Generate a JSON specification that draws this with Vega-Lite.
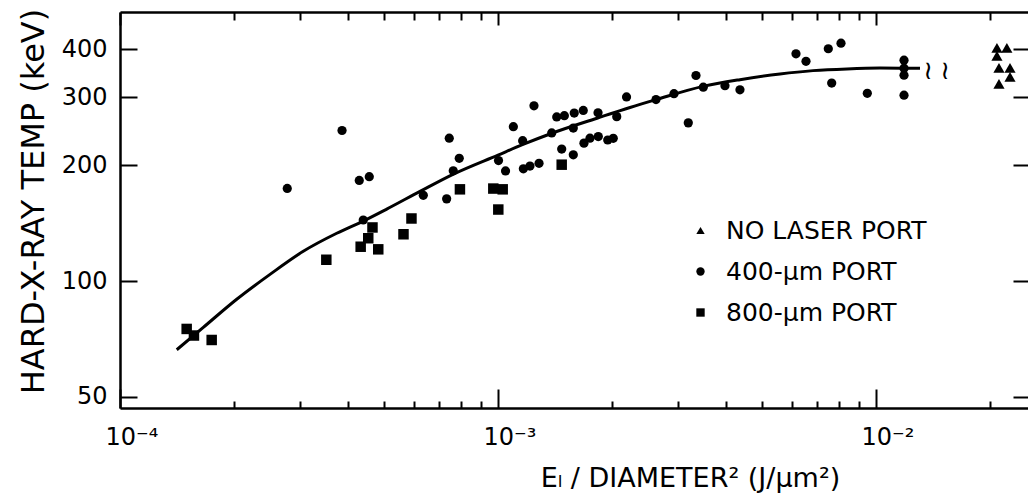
{
  "$schema": "https://vega.github.io/schema/vega-lite/v6.json",
  "width": 908,
  "height": 396,
  "autosize": {"type": "none"},
  "padding": {"left": 120, "top": 12, "right": 0, "bottom": 90},
  "background": "white",
  "datasets": {
    "curve": [
      {"e": 0.0001413, "t": 66.3}, {"e": 0.0001661, "t": 75.8}, {"e": 0.0002036, "t": 89.7},
      {"e": 0.0002494, "t": 104.1}, {"e": 0.0003054, "t": 119.5}, {"e": 0.0003744, "t": 133.1},
      {"e": 0.0004401, "t": 143.2}, {"e": 0.0005077, "t": 153.8}, {"e": 0.0006218, "t": 171.0},
      {"e": 0.00076, "t": 189.4}, {"e": 0.001, "t": 212.5}, {"e": 0.0011645, "t": 226.4},
      {"e": 0.001389, "t": 242.1}, {"e": 0.001828, "t": 264.9}, {"e": 0.002235, "t": 282.5},
      {"e": 0.002618, "t": 296.0}, {"e": 0.003486, "t": 320.4}, {"e": 0.004366, "t": 333.6},
      {"e": 0.005572, "t": 345.2}, {"e": 0.006813, "t": 352.1}, {"e": 0.00838, "t": 355.8},
      {"e": 0.010246, "t": 357.5}, {"e": 0.013074, "t": 356.9}
    ],
    "points": [
      {"e": 0.0001501, "t": 75.1, "port": "800-μm PORT"},
      {"e": 0.0001569, "t": 72.2, "port": "800-μm PORT"},
      {"e": 0.0001748, "t": 70.3, "port": "800-μm PORT"},
      {"e": 0.0003514, "t": 113.6, "port": "800-μm PORT"},
      {"e": 0.0004332, "t": 122.8, "port": "800-μm PORT"},
      {"e": 0.0004537, "t": 129.2, "port": "800-μm PORT"},
      {"e": 0.0004655, "t": 137.8, "port": "800-μm PORT"},
      {"e": 0.0004822, "t": 120.9, "port": "800-μm PORT"},
      {"e": 0.0005623, "t": 132.3, "port": "800-μm PORT"},
      {"e": 0.0005903, "t": 145.4, "port": "800-μm PORT"},
      {"e": 0.000793, "t": 173.1, "port": "800-μm PORT"},
      {"e": 0.0009718, "t": 173.9, "port": "800-μm PORT"},
      {"e": 0.001029, "t": 173.1, "port": "800-μm PORT"},
      {"e": 0.0010018, "t": 153.4, "port": "800-μm PORT"},
      {"e": 0.001474, "t": 200.6, "port": "800-μm PORT"},
      {"e": 0.000277, "t": 174.0, "port": "400-μm PORT"},
      {"e": 0.0003867, "t": 246.1, "port": "400-μm PORT"},
      {"e": 0.0004295, "t": 182.6, "port": "400-μm PORT"},
      {"e": 0.0004565, "t": 186.7, "port": "400-μm PORT"},
      {"e": 0.0004401, "t": 144.1, "port": "400-μm PORT"},
      {"e": 0.0006344, "t": 167.0, "port": "400-μm PORT"},
      {"e": 0.0007314, "t": 163.5, "port": "400-μm PORT"},
      {"e": 0.0007431, "t": 235.0, "port": "400-μm PORT"},
      {"e": 0.0007897, "t": 208.4, "port": "400-μm PORT"},
      {"e": 0.0007614, "t": 193.4, "port": "400-μm PORT"},
      {"e": 0.001003, "t": 205.6, "port": "400-μm PORT"},
      {"e": 0.001047, "t": 193.2, "port": "400-μm PORT"},
      {"e": 0.001098, "t": 251.8, "port": "400-μm PORT"},
      {"e": 0.001245, "t": 285.3, "port": "400-μm PORT"},
      {"e": 0.001162, "t": 231.5, "port": "400-μm PORT"},
      {"e": 0.001167, "t": 195.7, "port": "400-μm PORT"},
      {"e": 0.001215, "t": 198.9, "port": "400-μm PORT"},
      {"e": 0.001284, "t": 202.2, "port": "400-μm PORT"},
      {"e": 0.001387, "t": 242.6, "port": "400-μm PORT"},
      {"e": 0.00143, "t": 266.9, "port": "400-μm PORT"},
      {"e": 0.001498, "t": 268.9, "port": "400-μm PORT"},
      {"e": 0.001591, "t": 273.2, "port": "400-μm PORT"},
      {"e": 0.001681, "t": 277.5, "port": "400-μm PORT"},
      {"e": 0.001582, "t": 249.7, "port": "400-μm PORT"},
      {"e": 0.001474, "t": 220.3, "port": "400-μm PORT"},
      {"e": 0.001582, "t": 212.8, "port": "400-μm PORT"},
      {"e": 0.001688, "t": 228.2, "port": "400-μm PORT"},
      {"e": 0.001751, "t": 235.0, "port": "400-μm PORT"},
      {"e": 0.001842, "t": 237.4, "port": "400-μm PORT"},
      {"e": 0.001951, "t": 232.5, "port": "400-μm PORT"},
      {"e": 0.002018, "t": 234.9, "port": "400-μm PORT"},
      {"e": 0.001839, "t": 273.7, "port": "400-μm PORT"},
      {"e": 0.002061, "t": 267.4, "port": "400-μm PORT"},
      {"e": 0.002188, "t": 300.9, "port": "400-μm PORT"},
      {"e": 0.002618, "t": 296.1, "port": "400-μm PORT"},
      {"e": 0.002921, "t": 306.7, "port": "400-μm PORT"},
      {"e": 0.003187, "t": 257.6, "port": "400-μm PORT"},
      {"e": 0.00334, "t": 342.0, "port": "400-μm PORT"},
      {"e": 0.003492, "t": 318.9, "port": "400-μm PORT"},
      {"e": 0.003985, "t": 321.7, "port": "400-μm PORT"},
      {"e": 0.004366, "t": 313.9, "port": "400-μm PORT"},
      {"e": 0.006142, "t": 389.3, "port": "400-μm PORT"},
      {"e": 0.006528, "t": 372.3, "port": "400-μm PORT"},
      {"e": 0.007478, "t": 401.3, "port": "400-μm PORT"},
      {"e": 0.008079, "t": 415.0, "port": "400-μm PORT"},
      {"e": 0.007634, "t": 326.9, "port": "400-μm PORT"},
      {"e": 0.009484, "t": 307.4, "port": "400-μm PORT"},
      {"e": 0.01186, "t": 374.7, "port": "400-μm PORT"},
      {"e": 0.01186, "t": 357.2, "port": "400-μm PORT"},
      {"e": 0.01186, "t": 342.6, "port": "400-μm PORT"},
      {"e": 0.01186, "t": 304.0, "port": "400-μm PORT"},
      {"e": 0.02089, "t": 403.4, "port": "NO LASER PORT"},
      {"e": 0.02219, "t": 403.4, "port": "NO LASER PORT"},
      {"e": 0.02089, "t": 384.5, "port": "NO LASER PORT"},
      {"e": 0.02115, "t": 357.9, "port": "NO LASER PORT"},
      {"e": 0.02262, "t": 357.9, "port": "NO LASER PORT"},
      {"e": 0.02115, "t": 325.2, "port": "NO LASER PORT"},
      {"e": 0.02262, "t": 339.2, "port": "NO LASER PORT"}
    ],
    "breaks": [
      {"e": 0.01373, "t": 352, "s": "≀"},
      {"e": 0.01523, "t": 352, "s": "≀"}
    ]
  },
  "layer": [
    {
      "data": {"name": "curve"},
      "mark": {"type": "line", "color": "black", "strokeWidth": 3, "interpolate": "monotone"},
      "encoding": {
        "x": {
          "field": "e", "type": "quantitative",
          "scale": {"type": "log", "domain": [0.0001, 0.02524], "nice": false},
          "axis": {
            "orient": "bottom",
            "values": [0.0001, 0.0002, 0.0003, 0.0004, 0.0005, 0.0006, 0.0007, 0.0008, 0.0009, 0.001, 0.002, 0.003, 0.004, 0.005, 0.006, 0.007, 0.008, 0.009, 0.01, 0.02],
            "labelExpr": "datum.value == 0.0001 ? '10⁻⁴' : datum.value == 0.001 ? '10⁻³' : datum.value == 0.01 ? '10⁻²' : ''",
            "labelFontSize": 24,
            "labelAlign": "left",
            "labelOffset": -15,
            "labelPadding": 36,
            "labelFlush": false,
            "labelOverlap": false,
            "labelBound": false,
            "ticks": true,
            "tickSize": {"condition": {"test": "abs(log(datum.value)/LN10 - round(log(datum.value)/LN10)) < 0.001", "value": -19}, "value": -7},
            "tickWidth": 2,
            "domain": true,
            "domainWidth": 2.5,
            "title": "Eₗ / DIAMETER² (J/μm²)",
            "titleFontSize": 27,
            "titleX": 570,
            "titleY": 78,
            "titleAlign": "center",
            "titleBaseline": "alphabetic"
          }
        },
        "y": {
          "field": "t", "type": "quantitative",
          "scale": {"type": "log", "domain": [46.8, 500], "nice": false, "zero": false},
          "axis": {
            "orient": "left",
            "values": [50, 100, 200, 300, 400],
            "labelFontSize": 24,
            "labelPadding": 30,
            "labelOverlap": false,
            "ticks": true,
            "tickSize": -17,
            "tickWidth": 2,
            "domain": true,
            "domainWidth": 2.5,
            "title": "HARD-X-RAY TEMP (keV)",
            "titleFontSize": 32,
            "titleAngle": 270,
            "titleX": -77,
            "titleY": 189,
            "titleAlign": "center",
            "titleBaseline": "alphabetic"
          }
        }
      }
    },
    {
      "data": {"name": "points"},
      "mark": {"type": "point", "filled": true, "color": "black", "opacity": 1, "strokeWidth": 0},
      "encoding": {
        "x": {
          "field": "e", "type": "quantitative",
          "scale": {"type": "log", "domain": [0.0001, 0.02524], "nice": false},
          "axis": {
            "orient": "top",
            "values": [0.0001, 0.0002, 0.0003, 0.0004, 0.0005, 0.0006, 0.0007, 0.0008, 0.0009, 0.001, 0.002, 0.003, 0.004, 0.005, 0.006, 0.007, 0.008, 0.009, 0.01, 0.02],
            "labels": false,
            "ticks": true,
            "tickSize": {"condition": {"test": "abs(log(datum.value)/LN10 - round(log(datum.value)/LN10)) < 0.001", "value": -13}, "value": -8},
            "tickWidth": 2,
            "domain": true,
            "domainWidth": 2.5,
            "title": null
          }
        },
        "y": {
          "field": "t", "type": "quantitative",
          "scale": {"type": "log", "domain": [46.8, 500], "nice": false, "zero": false},
          "axis": {
            "orient": "right",
            "values": [50, 100, 200, 300, 400],
            "labels": false,
            "ticks": true,
            "tickSize": -15,
            "tickWidth": 2,
            "domain": false,
            "title": null
          }
        },
        "shape": {
          "field": "port", "type": "nominal",
          "scale": {"domain": ["NO LASER PORT", "400-μm PORT", "800-μm PORT"], "range": ["triangle-up", "circle", "square"]},
          "legend": {
            "orient": "none",
            "legendX": 568,
            "legendY": 206,
            "title": null,
            "padding": 0,
            "labelFontSize": 25,
            "labelColor": "black",
            "labelLimit": 0,
            "labelOffset": 13,
            "rowPadding": 15,
            "symbolSize": 70,
            "symbolFillColor": "black",
            "symbolStrokeColor": "black",
            "symbolStrokeWidth": 0,
            "symbolOpacity": 1
          }
        },
        "size": {
          "condition": [
            {"test": "datum.port == 'NO LASER PORT'", "value": 125},
            {"test": "datum.port == '800-μm PORT'", "value": 110}
          ],
          "value": 85
        }
      }
    },
    {
      "data": {"name": "breaks"},
      "mark": {"type": "text", "fontSize": 26, "color": "black", "baseline": "middle", "align": "center"},
      "encoding": {
        "x": {"field": "e", "type": "quantitative", "scale": {"type": "log", "domain": [0.0001, 0.02524], "nice": false}, "axis": null},
        "y": {"field": "t", "type": "quantitative", "scale": {"type": "log", "domain": [46.8, 500], "nice": false, "zero": false}, "axis": null},
        "text": {"field": "s"}
      }
    }
  ],
  "resolve": {"axis": {"x": "independent", "y": "independent"}},
  "config": {
    "font": "DejaVu Sans",
    "view": {"stroke": null},
    "axis": {
      "grid": false,
      "labelColor": "black",
      "titleColor": "black",
      "tickColor": "black",
      "domainColor": "black",
      "labelFontWeight": "normal",
      "titleFontWeight": "normal",
      "labelFont": "DejaVu Sans",
      "titleFont": "DejaVu Sans"
    },
    "legend": {"labelFont": "DejaVu Sans"}
  }
}
